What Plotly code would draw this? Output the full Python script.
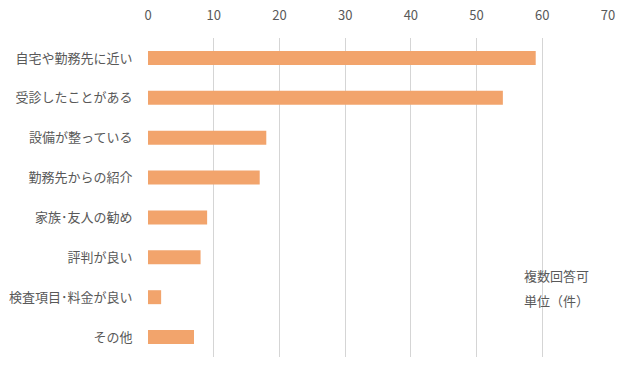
import plotly.graph_objects as go

categories = ["自宅や勤務先に近い", "受診したことがある", "設備が整っている", "勤務先からの紹介",
              "家族･友人の勧め", "評判が良い", "検査項目･料金が良い", "その他"]
values = [59, 54, 18, 17, 9, 8, 2, 7]
x_ticks = [0, 10, 20, 30, 40, 50, 60, 70]

FONT = "Noto Sans CJK JP"
GRAY = "#595959"

fig = go.Figure(go.Bar(
    y=categories, x=values, orientation="h",
    marker=dict(color="#F2A46C", line=dict(width=0)),
    width=0.35,
))

fig.update_layout(
    width=632, height=371,
    margin=dict(l=148, r=24, t=38, b=14),
    paper_bgcolor="white", plot_bgcolor="white",
    font=dict(family=FONT, size=13, color=GRAY),
    showlegend=False,
    xaxis=dict(side="top", range=[0, 70], tickvals=x_ticks, ticktext=[str(v) for v in x_ticks],
               showgrid=True, gridcolor="#D5D5D5", gridwidth=1, zeroline=False,
               showline=False, ticks="outside", ticklen=12, tickcolor="rgba(0,0,0,0)",
               automargin=False,
               tickfont=dict(family=FONT, size=13, color=GRAY)),
    yaxis=dict(autorange="reversed", showgrid=False, zeroline=False, showline=False,
               ticks="outside", ticklen=12, tickcolor="rgba(0,0,0,0)", automargin=False,
               tickfont=dict(family=FONT, size=13, color=GRAY)),
    annotations=[
        dict(x=0.812, y=0.255, xref="paper", yref="paper", xanchor="left", yanchor="middle",
             text="複数回答可", showarrow=False, font=dict(family=FONT, size=13, color=GRAY)),
        dict(x=0.812, y=0.176, xref="paper", yref="paper", xanchor="left", yanchor="middle",
             text="単位（件）", showarrow=False, font=dict(family=FONT, size=13, color=GRAY)),
    ],
)

fig.write_html("out.html", config={"displayModeBar": False},
               post_script="document.body.style.margin='0';document.body.style.overflow='hidden';")
